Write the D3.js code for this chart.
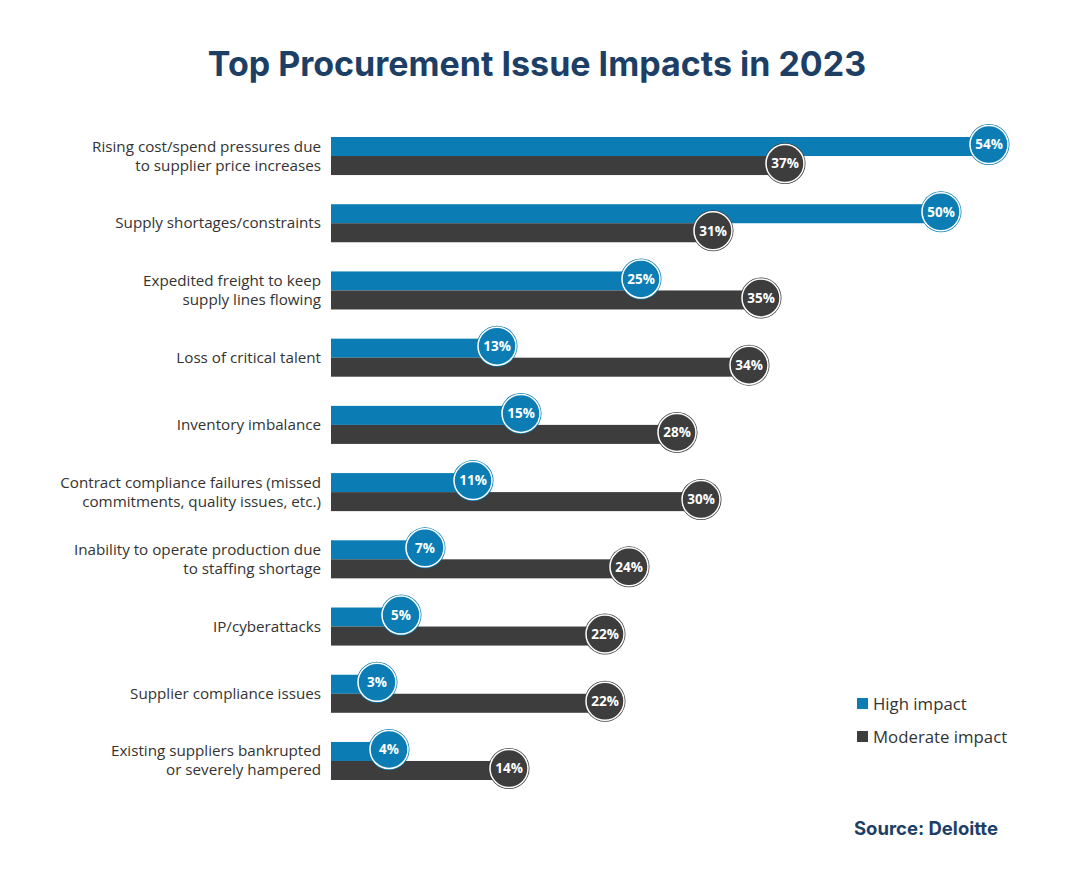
<!DOCTYPE html>
<html>
<head>
<meta charset="utf-8">
<script src="https://cdn.jsdelivr.net/npm/d3@7"></script>
<style>
  html, body { margin: 0; padding: 0; background: #ffffff; }
  svg { display: block; }
</style>
</head>
<body>
<svg id="chart" width="1075" height="874"></svg>
<script>
const categories = [
  "Rising cost/spend pressures due\nto supplier price increases",
  "Supply shortages/constraints",
  "Expedited freight to keep\nsupply lines flowing",
  "Loss of critical talent",
  "Inventory imbalance",
  "Contract compliance failures (missed\ncommitments, quality issues, etc.)",
  "Inability to operate production due\nto staffing shortage",
  "IP/cyberattacks",
  "Supplier compliance issues",
  "Existing suppliers bankrupted\nor severely hampered"
];
const highImpact = [54, 50, 25, 13, 15, 11, 7, 5, 3, 4];
const moderateImpact = [37, 31, 35, 34, 28, 30, 24, 22, 22, 14];
const seriesNames = ["High impact", "Moderate impact"];
const seriesColors = ["#0b7db4", "#3d3d3d"];
const title = "Top Procurement Issue Impacts in 2023";
const source = "Source: Deloitte";

const rows = categories.map((c, i) => ({ cat: c, values: [highImpact[i], moderateImpact[i]] }));

const svg = d3.select("#chart");

// Title
svg.append("text")
  .attr("x", 537).attr("y", 76)
  .attr("text-anchor", "middle")
  .attr("font-family", "Inter, 'Noto Sans', sans-serif")
  .attr("font-weight", 700)
  .attr("font-size", 34)
  .attr("fill", "#1d3f66")
  .text(title);

const x = d3.scaleLinear().domain([0, 54]).range([341, 989]);
const barStart = x(0) - 10;
const y = d3.scaleBand().domain(categories).range([137, 780]).paddingInner(0.434).paddingOuter(0);
const ySub = d3.scaleBand().domain([0, 1]).range([0, y.bandwidth()]);

// Category labels
const labelG = svg.append("g");
rows.forEach(r => {
  const lines = r.cat.split("\n");
  const cy = y(r.cat) + y.bandwidth() / 2;
  const lh = 19;
  const t = labelG.append("text")
    .attr("text-anchor", "end")
    .attr("font-family", "'Open Sans', sans-serif")
    .attr("font-size", 15.2)
    .attr("fill", "#333333");
  lines.forEach((ln, k) => {
    t.append("tspan")
      .attr("x", 321)
      .attr("y", cy + (k - (lines.length - 1) / 2) * lh + 5)
      .text(ln);
  });
});

// Bars
const barG = svg.append("g");
rows.forEach(r => {
  r.values.forEach((v, s) => {
    barG.append("rect")
      .attr("x", barStart)
      .attr("y", y(r.cat) + ySub(s))
      .attr("width", x(v) - barStart)
      .attr("height", ySub.bandwidth())
      .attr("fill", seriesColors[s]);
  });
});

// Value bubbles
const bubG = svg.append("g");
rows.forEach(r => {
  r.values.forEach((v, s) => {
    const cx = x(v);
    const cy = y(r.cat) + ySub(s) + ySub.bandwidth() / 2 - 2;
    bubG.append("circle")
      .attr("cx", cx).attr("cy", cy).attr("r", 20.5)
      .attr("fill", seriesColors[s]);
    bubG.append("circle")
      .attr("cx", cx).attr("cy", cy).attr("r", 19)
      .attr("fill", "none")
      .attr("stroke", "#ffffff")
      .attr("stroke-width", 1.5);
    bubG.append("text")
      .attr("x", cx).attr("y", cy + 4.8)
      .attr("text-anchor", "middle")
      .attr("font-family", "'Open Sans', sans-serif")
      .attr("font-weight", 700)
      .attr("font-size", 13.5)
      .attr("fill", "#ffffff")
      .text(v + "%");
  });
});

// Legend
const legend = svg.append("g");
seriesNames.forEach((n, i) => {
  const ly = 704 + i * 33;
  legend.append("rect")
    .attr("x", 857).attr("y", ly - 6)
    .attr("width", 11).attr("height", 11)
    .attr("fill", seriesColors[i]);
  legend.append("text")
    .attr("x", 873).attr("y", ly + 5.5)
    .attr("font-family", "'Open Sans', sans-serif")
    .attr("font-size", 16.8)
    .attr("fill", "#333333")
    .text(n);
});

// Source
svg.append("text")
  .attr("x", 998).attr("y", 835)
  .attr("text-anchor", "end")
  .attr("font-family", "Inter, 'Noto Sans', sans-serif")
  .attr("font-weight", 700)
  .attr("font-size", 18.5)
  .attr("fill", "#1d3f66")
  .text(source);
</script>
</body>
</html>
